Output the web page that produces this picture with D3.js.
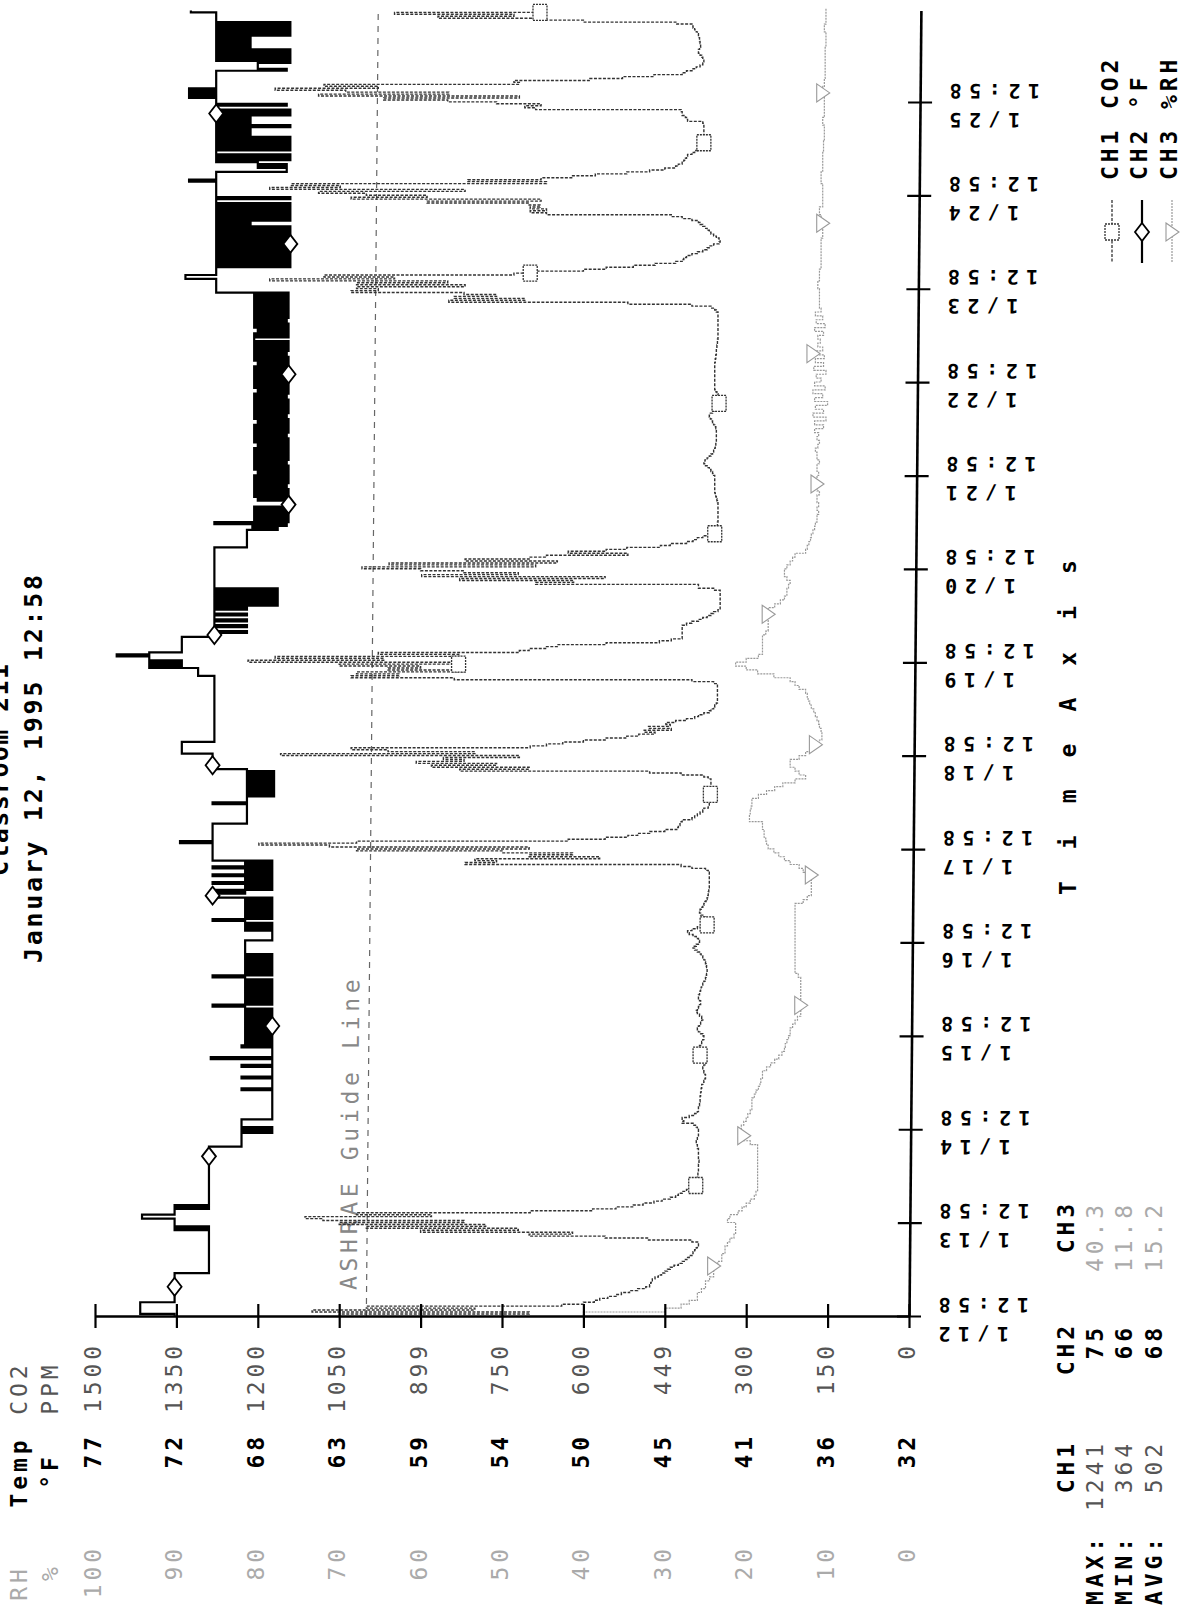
<!DOCTYPE html>
<html>
<head>
<meta charset="utf-8">
<script src="https://cdn.jsdelivr.net/npm/d3@7"></script>
<style>
  body { margin: 0; background: #fff; }
  svg { display: block; }
  text { font-family: "DejaVu Sans Mono", "Liberation Mono", monospace; font-weight: bold; }
  .lab { font-size: 23px; letter-spacing: 3.9px; fill: #000; }
  .lab.co2 { fill: #555; font-weight: normal; }
  .lab.rh { fill: #aaa; font-weight: normal; }
  .tick-lab { font-size: 20px; letter-spacing: 7.5px; fill: #000; }
  .title { font-size: 25px; fill: #000; }
  .guide { font-size: 23px; letter-spacing: 4.7px; fill: #888; font-weight: normal; }
  .axis-title { font-size: 23px; fill: #000; }
</style>
</head>
<body>
<script>
// ---- data -------------------------------------------------------------
// time axis: one tick a day at 12:58
const dayLabels = ["1/12","1/13","1/14","1/15","1/16","1/17","1/18","1/19","1/20","1/21","1/22","1/23","1/24","1/25"];
const tickClock = "12:58";

// value axis ticks (three scales share the same positions)
const co2Ticks = [0,150,300,450,600,750,900,1050,1200,1350,1500];
const co2TickLabels = ["0","150","300","449","600","750","899","1050","1200","1350","1500"];
const tempTicks = [32,36.5,41,45.5,50,54.5,59,63.5,68,72.5,77];
const tempTickLabels = ["32","36","41","45","50","54","59","63","68","72","77"];
const rhTicks = [0,10,20,30,40,50,60,70,80,90,100];
const rhTickLabels = ["0","10","20","30","40","50","60","70","80","90","100"];

// CH1 CO2 (ppm), every 30 min, first row starts 1/12 13:00, then one row per day from 00:00
const co2Rows = [
  [1050,700,1100,800,1000,640,600,580, 570,555,540,530,515,500,485,478, 476,475,473,468,462,456],
  [450,445,440,433,425,418,412,408, 405,400,398,395,392,390,388,388, 400,480,560,700,620,900,720,1000,
   780,1050,820,1080,1113,880,1018,698, 583,540,508,490,470,455,440,430, 425,418,410,402,395,393,390,390],
  [390,390,389,389,388,388,388,388, 387,387,388,388,388,388,388,388, 390,390,392,392,390,390,388,388,
   388,388,390,392,398,418,415,418, 405,395,390,388,388,388,386,386, 385,385,385,384,384,383,383,382],
  [382,380,378,376,375,375,376,378, 380,380,378,376,375,375,378,382, 385,388,390,388,386,384,382,380,
   378,378,380,384,388,390,388,386, 384,382,380,382,386,390,392,390, 388,386,384,384,386,388,388,386],
  [385,384,383,382,380,378,376,375, 374,373,372,372,372,373,374,375, 376,378,380,383,386,390,395,398,
   392,388,386,388,392,398,405,408, 400,390,380,372,368,370,375,380, 384,386,385,383,380,378,376,374],
  [372,371,370,370,369,369,368,368, 368,368,368,368,368,368,370,375, 400,420,818,760,800,570,700,620,
   750,1018,700,1068,1198,1018,628,560, 518,500,478,450,428,425,422,420, 418,400,395,390,385,380,378,370],
  [368,368,367,367,366,366,366,366, 365,365,365,365,365,365,370,378, 420,478,828,700,880,760,908,820,
   858,718,1158,800,960,1028,698,668, 638,600,558,520,498,468,488,438, 480,440,448,430,410,395,388,378],
  [368,365,360,358,355,353,353,353, 353,353,353,353,353,353,353,360, 400,838,1028,940,1018,818,960,900,
   1050,830,1218,968,1168,828,978,718, 700,668,648,558,460,438,418,418, 418,418,418,418,418,410,400,388],
  [380,372,365,360,352,348,348,348, 348,348,348,348,348,348,348,360, 388,388,688,618,828,560,898,720,
   820,900,1008,688,958,648,818,700, 668,518,628,558,520,458,440,410, 398,390,380,365,358,355,355,353],
  [353,353,352,352,352,352,352,352, 352,352,352,352,353,354,355,356, 357,358,358,358,358,358,358,358,
   358,358,360,362,365,368,372,375, 378,376,372,368,365,362,360,358, 357,356,356,355,355,355,355,355],
  [355,355,356,358,360,362,364,366, 368,366,362,358,355,352,350,350, 350,350,350,352,354,356,358,358,
   358,358,358,358,358,358,358,358, 358,358,358,358,357,357,356,356, 355,355,355,354,354,353,353,353],
  [352,352,352,352,352,352,352,352, 352,352,352,352,352,352,355,358, 365,400,518,848,708,838,760,820,
   1028,978,1018,818,1018,850,1178,948, 1078,728,698,600,558,508,468,430, 418,415,410,400,390,380,372,368],
  [360,350,348,350,355,360,365,368, 372,376,380,385,388,400,418,438, 668,698,668,698,680,700,888,678,
   1028,888,1000,1088,818,1178,1048,1138, 668,813,678,620,578,520,478,450, 430,425,418,415,412,410,408,400],
  [395,388,380,378,378,378,378,378, 378,378,378,378,378,378,378,380, 408,410,412,418,418,420,688,708,
   678,760,850,968,718,1088,848,1038, 1168,978,1078,718,728,588,528,470, 418,410,398,392,385,380,378,378],
  [380,382,385,388,388,386,384,384, 385,386,386,388,388,390,392,395, 398,400,428,600,668,868,728,948, 680]
];

// CH2 temperature (F), same 30 min grid
const tempRows = [
  [72.6,74.5,74.5,74.5,74.5,74.5,74.5,72.6, 72.6,72.6,72.6,72.6,72.6,72.6,72.6,72.6, 72.6,72.6,72.6,72.6,72.6,72.6],
  [70.7,70.7,70.7,70.7,70.7,70.7,70.7,70.7, 70.7,70.7,70.7,70.7,70.7,70.7,70.7,70.7, 70.7,70.7,70.7,70.7,70.7,70.7,72.6,70.7,
   72.6,72.6,72.6,72.6,74.4,74.4,72.6,72.6, 72.6,70.7,72.6,70.7,70.7,70.7,70.7,70.7, 70.7,70.7,70.7,70.7,70.7,70.7,70.7,70.7],
  [70.7,70.7,70.7,70.7,70.7,70.7,70.7,70.7, 70.7,70.7,70.7,70.7,70.7,70.7,70.7,70.7, 70.7,68.9,68.9,68.9,68.9,68.9,68.9,68.9,
   67.2,68.9,67.2,68.9,68.9,68.9,68.9,67.2, 67.2,67.2,67.2,67.2,67.2,67.2,67.2,67.2, 67.2,67.2,67.2,67.2,67.2,67.2,68.9,67.2],
  [67.2,67.2,67.2,67.2,68.9,67.2,67.2,67.2, 67.2,67.2,68.9,67.2,67.2,67.2,70.6,67.2, 67.2,67.2,67.2,67.2,68.9,67.2,68.7,67.2,
   68.7,67.2,68.7,67.2,68.7,67.2,68.7,67.2, 68.7,67.2,68.7,67.2,68.7,67.2,68.7,67.2, 68.7,70.5,67.2,68.7,67.2,68.7,67.2,68.7],
  [67.2,68.7,67.2,68.7,67.2,68.7,67.2,68.7, 70.5,67.2,68.7,67.2,68.7,67.2,68.7,67.2, 68.7,67.2,68.7,67.2,68.7,68.7,68.7,68.7,
   68.7,68.7,68.7,67.2,67.2,67.2,67.2,67.2, 68.7,67.2,68.7,67.2,68.7,70.5,67.2,68.7, 67.2,68.7,67.2,68.7,67.2,68.7,67.2,68.7],
  [67.2,70.5,70.5,68.7,70.5,67.2,68.7,67.2, 70.5,67.2,68.7,67.2,70.5,67.2,68.7,67.2, 70.5,67.2,68.7,67.2,70.5,70.5,70.5,70.5,
   70.5,70.5,70.5,70.5,70.5,72.3,70.5,70.5, 70.5,70.5,70.5,70.5,70.5,70.5,70.5,68.6, 68.6,68.6,68.6,68.6,68.6,68.6,68.6,68.6],
  [68.6,70.5,68.6,68.6,68.6,67.1,68.6,67.1, 68.6,67.1,68.6,67.1,68.6,67.1,68.6,67.1, 68.6,67.1,68.6,70.5,70.5,70.5,70.5,70.5,
   70.5,70.5,70.5,72.2,72.2,72.2,72.2,72.2, 72.2,70.4,70.4,70.4,70.4,70.4,70.4,70.4, 70.4,70.4,70.4,70.4,70.4,70.4,70.4,70.4],
  [70.4,70.4,70.4,70.4,70.4,70.4,70.4,70.4, 70.4,70.4,70.4,70.4,70.4,70.4,70.4,70.4, 70.4,70.4,70.4,71.3,71.3,71.3,71.3,74.0,
   72.2,74.0,72.2,74.0,74.0,75.8,74.0,72.2, 72.2,72.2,72.2,72.2,72.2,72.2,72.2,70.4, 70.4,68.6,70.4,70.4,68.6,70.4,70.4,68.6],
  [70.4,70.4,68.6,70.4,70.4,68.6,70.4,66.9, 70.4,66.9,70.4,66.9,70.4,66.9,70.4,66.9, 70.4,70.4,70.4,70.4,70.4,70.4,70.4,70.4,
   70.4,70.4,70.4,70.4,70.4,70.4,70.4,70.4, 70.4,70.4,70.4,70.4,70.4,68.6,68.6,68.6, 68.6,68.6,68.6,68.6,68.6,68.6,66.9,68.3],
  [66.4,70.4,66.3,68.2,66.3,68.2,66.3,68.2, 66.3,68.2,66.4,66.3,66.3,68.0,66.3,68.2, 66.3,68.2,66.3,68.2,66.4,68.2,66.3,68.2,
   66.3,68.2,66.3,68.0,66.3,68.2,66.3,68.2, 66.4,68.2,66.3,68.2,66.3,68.2,66.3,68.2, 66.3,68.0,66.3,68.2,66.3,68.2,66.4,68.2],
  [66.3,68.2,66.3,68.2,66.3,68.0,66.3,68.2, 66.4,68.2,66.3,68.2,66.3,68.2,66.3,68.2, 66.3,68.2,66.4,68.2,66.3,68.0,66.3,68.2,
   66.3,68.2,66.3,68.2,66.4,68.2,66.3,68.2, 66.3,68.2,66.3,68.0,66.3,68.2,66.3,68.2, 66.4,68.2,66.3,68.2,66.3,68.2,66.3,68.2],
  [68.2,66.3,68.2,66.3,68.0,66.3,68.2,66.3, 68.2,66.4,68.2,66.3,68.2,66.3,68.2,66.3, 68.2,66.3,68.2,66.3,68.2,66.3,68.2,66.3,
   70.3,70.3,70.3,70.3,70.3,70.3,70.3,72.0, 72.0,70.3,70.3,70.3,70.3,66.2,70.3,66.2, 70.3,66.2,70.3,66.2,70.3,66.2,70.3,66.2],
  [70.3,66.2,70.3,66.2,70.3,66.2,70.3,66.2, 70.3,66.2,70.3,68.4,70.3,66.2,70.3,66.2, 70.3,66.2,70.3,66.2,70.3,66.2,70.3,70.3,
   66.2,70.3,70.3,70.3,70.3,70.3,70.3,70.3, 70.3,71.8,70.3,70.3,70.3,70.3,66.4,66.4, 68.0,66.4,68.0,70.3,66.2,70.3,66.2,70.3],
  [70.3,66.2,70.3,66.2,70.3,66.2,70.3,66.2, 70.3,68.4,70.3,68.4,70.3,66.2,70.3,68.4, 70.3,68.4,70.3,66.2,70.3,66.2,70.3,70.3,
   66.4,70.3,70.3,70.3,71.8,70.3,71.8,70.3, 71.8,70.3,70.3,70.3,70.3,70.3,70.3,70.3, 70.3,70.3,66.4,68.0,68.0,68.0,66.2,70.3],
  [66.2,70.3,66.2,70.3,66.2,70.3,68.4,70.3, 68.4,70.3,68.4,70.3,66.2,70.3,66.2,70.3, 66.2,70.3,66.2,70.3,70.3,70.3,70.3,70.3, 71.7]
];

// CH3 relative humidity (%), hourly, first row starts 1/12 13:00
const rhRows = [
  [40,30,28,27,26,26,25.5,25,25,24.5,24],
  [24,24,23.5,23,23,22.6,22.6,22.3,22,21.5,21.3,21.3, 21.3,22.3,22,21,20.5,20,19.5,19,18.8,18.6,18.6,18.6],
  [18.6,18.6,18.6,18.6,18.6,18.6,18.6,18.6,18.6,19.5,20.3,20.3, 20.6,20.6,20.3,20,19.8,19.5,19.3,19.3,19.3,19,18.8,18.5],
  [18.3,18.2,18,18,17.5,17,16.5,16,15.6,15.3,15.2,15, 14.8,14.6,14.6,14.3,14,13.7,13.3,13.3,13.3,13.3,13.3,13.3],
  [13.3,13.3,13.3,13.3,13.6,14,14,14,14,14,14,14, 14,14,14,14,14,14,14,14,14,14,14,13],
  [12.5,12,12,12,12,12,12,13,13.5,14.6,15.3,16, 16.6,17.3,17.5,17.6,17.8,17.8,18,18,19.6,19.6,19.5,19.4],
  [19.3,19.3,18.5,17.5,16.5,15.5,14,12.7,13.5,14,14.6,14.6, 13.5,12.7,12,11.5,11,10.7,10.7,10.8,11,11.1,11.3,11.5],
  [11.7,12,12.2,12.4,12.5,12.7,13.5,14,14.6,16.6,18.6,20, 21.3,20,18.5,18,18,18,18,18,17.6,17.3,17.3,17.3],
  [17.3,17.3,17.3,16.5,15.8,15.3,15,15,14.8,14.6,15,15.3, 15.3,15,14.6,14.3,14,12.7,12.5,12.3,12.1,12,11.8,11.6],
  [11.5,11.3,11.3,11.1,11.3,11.1,11.3,11.3,11,11.3,11.3,11.5, 11.3,11.1,11.3,11.3,11,11.3,11.3,11.5,11.2,11,11.3,11.1],
  [11.6,10.5,11.6,10.2,11.8,10.5,11.5,10,11.6,10.6,11.8,10.3, 11.6,10.8,11.4,10.2,11.7,10.5,11.5,10.4,11.8,10.6,11.2,10.9],
  [11.2,10.5,11.6,10.3,11.4,10.6,11.5,10.8,11,11,11,11, 11,11.2,11.2,11,11,11,10.8,10.8,10.8,10.8,10.8,10.8],
  [10.8,10.8,10.6,10.6,10.6,10.6,10.8,10.8,11,11,10.6,10.6, 10.6,10.6,10.6,10.6,10.8,10.8,10.8,10.6,10.6,10.6,10.6,10.6],
  [10.5,10.5,10.5,10.4,10.4,10.4,10.4,10.6,10.6,10.4,10.4,10.4, 10.4,10.4,10.4,10.6,10.6,10.4,10.4,10.3,10.3,10.3,10.3,10.3],
  [10.3,10.3,10.3,10.2,10.2,10.2,10.2,10.4,10.4,10.2,10.2,10.2,10.2]
];

// hours (since 1/12 00:00) where the logger printed a symbol on each trace
const co2MarkTimes = [46.5,80,113.5,147,180.5,214,247.5,281,314.5,348];
const tempMarkTimes = [20.5,54,87.5,121,154.5,188,221.5,255,288.5,322];
const rhMarkTimes = [25.8,59.3,92.8,126.3,159.8,193.3,226.8,260.3,293.8,327.3];

const ashrae = 1000;

const statRows = ["MAX:","MIN:","AVG:"];
const ch1Stats = ["1241","364","502"];
const ch2Stats = ["75","66","68"];
const ch3Stats = ["40.3","11.8","15.2"];

// ---- chart ------------------------------------------------------------
const width = 1193, height = 1615;
const svg = d3.select("body").append("svg")
  .attr("width", width).attr("height", height);

const firstTick = 12 + 58 / 60;             // 1/12 12:58, in hours since 1/12 00:00
const tickTimes = dayLabels.map((d, i) => firstTick + 24 * i);
const axisEnd = 348.5;

const yTime = d3.scaleLinear().domain([firstTick, tickTimes[13]]).range([1316, 102]);
const xCO2 = d3.scaleLinear().domain([0, 1500]).range([909, 95]);
const xTemp = d3.scaleLinear().domain([32, 77]).range([909, 95]);
const xRH = d3.scaleLinear().domain([0, 100]).range([909, 95]);

function toSeries(rows, start, step) {
  const flat = rows.flat();
  const s = flat.map((v, i) => ({ t: start + i * step, v: v }));
  s.push({ t: start + flat.length * step, v: flat[flat.length - 1] });
  return s;
}
const co2 = toSeries(co2Rows, 13, 0.5);
const temp = toSeries(tempRows, 13, 0.5);
const rh = toSeries(rhRows, 13, 1);

function valueAt(series, t) {
  let v = series[0].v;
  for (const d of series) { if (d.t <= t) v = d.v; else break; }
  return v;
}

function vtext(g, x, y, str, anchor, cls) {
  return g.append("text")
    .attr("transform", `translate(${x},${y}) rotate(-90)`)
    .attr("text-anchor", anchor)
    .attr("class", cls)
    .text(str);
}

// the scanned page leans a little: vertical lines drift ~12px right towards the top
const lean = svg.append("g").attr("transform", "translate(12,0) skewX(-0.5225)");

// ASHRAE guide line
lean.append("line")
  .attr("x1", xCO2(ashrae)).attr("x2", xCO2(ashrae))
  .attr("y1", yTime(firstTick)).attr("y2", yTime(axisEnd))
  .attr("stroke", "#666").attr("stroke-width", 1.2).attr("stroke-dasharray", "6,6");
vtext(lean, xCO2(ashrae) - 10, 1290, "ASHRAE Guide Line", "start", "guide");

// traces
const stepLine = xs => d3.line().x(d => xs(d.v)).y(d => yTime(d.t)).curve(d3.curveStepBefore);

svg.append("path").datum(rh)
  .attr("d", stepLine(xRH)).attr("fill", "none")
  .attr("stroke", "#999").attr("stroke-width", 1.2).attr("stroke-dasharray", "2,1");

svg.append("path").datum(co2)
  .attr("d", stepLine(xCO2)).attr("fill", "none")
  .attr("stroke", "#333").attr("stroke-width", 1.4).attr("stroke-dasharray", "3,1.5");

svg.append("path").datum(temp)
  .attr("d", stepLine(xTemp)).attr("fill", "none")
  .attr("stroke", "#000").attr("stroke-width", 2.2);

// trace symbols
const squarePath = "M-7,-8H7V8H-7Z";
const diamondPath = "M0,-9L7,0L0,9L-7,0Z";
const trianglePath = "M-6,-9L7,0L-6,9Z";

svg.selectAll(".m-co2").data(co2MarkTimes).enter().append("path")
  .attr("class", "m-co2")
  .attr("transform", t => `translate(${xCO2(valueAt(co2, t))},${yTime(t)})`)
  .attr("d", squarePath).attr("fill", "#fff").attr("stroke", "#333")
  .attr("stroke-width", 1.3).attr("stroke-dasharray", "2,1");

svg.selectAll(".m-temp").data(tempMarkTimes).enter().append("path")
  .attr("class", "m-temp")
  .attr("transform", t => `translate(${xTemp(valueAt(temp, t))},${yTime(t)})`)
  .attr("d", diamondPath).attr("fill", "#fff").attr("stroke", "#000").attr("stroke-width", 1.8);

svg.selectAll(".m-rh").data(rhMarkTimes).enter().append("path")
  .attr("class", "m-rh")
  .attr("transform", t => `translate(${xRH(valueAt(rh, t))},${yTime(t)})`)
  .attr("d", trianglePath).attr("fill", "#fff").attr("stroke", "#999").attr("stroke-width", 1.1);

// value axis (bottom)
const gx = svg.append("g").attr("transform", `translate(0,${yTime(firstTick)})`)
  .call(d3.axisBottom(xCO2).tickValues(co2Ticks).tickSize(12).tickSizeOuter(0).tickFormat(""));
gx.select(".domain").attr("stroke-width", 2.6);
gx.selectAll(".tick line").attr("y1", -12).attr("stroke-width", 2.2);

const labels = svg.append("g");
co2Ticks.forEach((v, i) => vtext(labels, xCO2(v) + 6, 1342, co2TickLabels[i], "end", "lab co2"));
tempTicks.forEach((v, i) => vtext(labels, xTemp(v) + 6, 1433, tempTickLabels[i], "end", "lab"));
rhTicks.forEach((v, i) => vtext(labels, xRH(v) + 6, 1545, rhTickLabels[i], "end", "lab rh"));

vtext(labels, 27, 1388, "CO2", "middle", "lab co2");
vtext(labels, 58, 1388, "PPM", "middle", "lab co2");
vtext(labels, 27, 1472, "Temp", "middle", "lab");
vtext(labels, 58, 1471, "\u00B0F", "middle", "lab");
vtext(labels, 27, 1583, "RH", "middle", "lab rh");
vtext(labels, 58, 1572, "%", "middle", "lab rh");

// time axis (right)
const yAxisScale = yTime.copy().domain([firstTick, axisEnd]).range([yTime(firstTick), yTime(axisEnd)]);
const gy = lean.append("g").attr("transform", `translate(${xCO2(0)},0)`)
  .call(d3.axisRight(yAxisScale).tickValues(tickTimes).tickSize(12).tickSizeOuter(0).tickFormat(""));
gy.select(".domain").attr("stroke-width", 2.6);
gy.selectAll(".tick line").attr("x1", -12).attr("stroke-width", 2.2);
gy.selectAll(".tick").each(function(d, i) {
  const g = d3.select(this);
  g.append("text").attr("class", "tick-lab").attr("text-anchor", "end")
    .attr("transform", "translate(22,-19) rotate(180)").text(tickClock);
  g.append("text").attr("class", "tick-lab").attr("text-anchor", "end")
    .attr("transform", "translate(22,10) rotate(180)").text(dayLabels[i]);
});

vtext(svg, 1076, 895, "T i m e   A x i s", "start", "axis-title")
  .attr("textLength", 335).attr("lengthAdjust", "spacing");

// titles
vtext(svg, 8, 770, "Classroom 211", "middle", "title")
  .attr("textLength", 212).attr("lengthAdjust", "spacing");
vtext(svg, 42, 575, "January 12, 1995  12:58", "end", "title")
  .attr("textLength", 388).attr("lengthAdjust", "spacing");

// legend
const legend = svg.append("g");
const legX = [1112, 1142, 1172];
legend.append("line").attr("x1", legX[0]).attr("x2", legX[0]).attr("y1", 200).attr("y2", 263)
  .attr("stroke", "#333").attr("stroke-width", 1.3).attr("stroke-dasharray", "3,1.5");
legend.append("path").attr("transform", `translate(${legX[0]},232)`).attr("d", squarePath)
  .attr("fill", "#fff").attr("stroke", "#333").attr("stroke-width", 1.3).attr("stroke-dasharray", "2,1");
legend.append("line").attr("x1", legX[1]).attr("x2", legX[1]).attr("y1", 200).attr("y2", 263)
  .attr("stroke", "#000").attr("stroke-width", 2.2);
legend.append("path").attr("transform", `translate(${legX[1]},232)`).attr("d", diamondPath)
  .attr("fill", "#fff").attr("stroke", "#000").attr("stroke-width", 1.8);
legend.append("line").attr("x1", legX[2]).attr("x2", legX[2]).attr("y1", 200).attr("y2", 263)
  .attr("stroke", "#999").attr("stroke-width", 1.2).attr("stroke-dasharray", "2,1");
legend.append("path").attr("transform", `translate(${legX[2]},232)`).attr("d", trianglePath)
  .attr("fill", "#fff").attr("stroke", "#999").attr("stroke-width", 1.1);
vtext(legend, 1118, 180, "CH1  CO2", "start", "lab");
vtext(legend, 1147, 180, "CH2  \u00B0F", "start", "lab");
vtext(legend, 1177, 180, "CH3  %RH", "start", "lab");

// statistics block
const stats = svg.append("g");
const rowX = [1103, 1132, 1162];
vtext(stats, 1074, 1440, "CH1", "end", "lab");
vtext(stats, 1074, 1322, "CH2", "end", "lab");
vtext(stats, 1074, 1200, "CH3", "end", "lab");
statRows.forEach((s, i) => {
  vtext(stats, rowX[i], 1534, s, "end", "lab");
  vtext(stats, rowX[i], 1440, ch1Stats[i], "end", "lab co2");
  vtext(stats, rowX[i], 1324, ch2Stats[i], "end", "lab");
  vtext(stats, rowX[i], 1201, ch3Stats[i], "end", "lab rh");
});
</script>
</body>
</html>
